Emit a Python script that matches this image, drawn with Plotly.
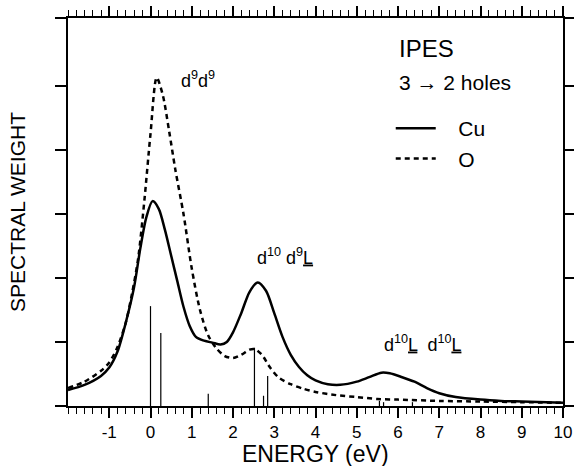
import plotly.graph_objects as go

# Cu (solid) spectral weight
cu_e = [-2.0, -1.6, -1.2, -1.0, -0.8, -0.6, -0.4, -0.25, -0.1, 0.05, 0.2, 0.35, 0.5, 0.65,
        0.8, 0.95, 1.1, 1.3, 1.5, 1.7, 1.85, 2.0, 2.2, 2.4, 2.6, 2.8, 3.0, 3.2, 3.4, 3.6,
        3.8, 4.0, 4.3, 4.6, 5.0, 5.3, 5.6, 5.8, 6.1, 6.4, 6.7, 7.0, 7.4, 8.0, 8.5, 9.0, 10.0]
cu_w = [0.25, 0.33, 0.47, 0.6, 0.85, 1.3, 1.85, 2.45, 2.95, 3.2, 3.08, 2.75, 2.35, 1.95,
        1.55, 1.25, 1.08, 1.02, 0.99, 0.96, 1.0, 1.15, 1.45, 1.78, 1.93, 1.8, 1.45, 1.08, 0.8, 0.61,
        0.48, 0.4, 0.34, 0.33, 0.38, 0.45, 0.52, 0.51, 0.45, 0.38, 0.28, 0.2, 0.14, 0.1, 0.08, 0.07, 0.05]

# O (dashed) spectral weight
o_e = [-2.0, -1.6, -1.2, -1.0, -0.8, -0.6, -0.45, -0.3, -0.15, 0.0, 0.15, 0.3, 0.45, 0.6,
       0.8, 1.0, 1.2, 1.4, 1.6, 1.8, 2.0, 2.2, 2.4, 2.52, 2.7, 2.9, 3.1, 3.4, 3.7, 4.0,
       4.5, 5.0, 5.5, 6.0, 7.0, 8.0, 9.0, 10.0]
o_w = [0.28, 0.38, 0.55, 0.68, 0.92, 1.3, 1.75, 2.3, 3.2, 4.25, 5.13, 4.85, 4.3, 3.7,
       3.0, 2.15, 1.5, 1.1, 0.9, 0.78, 0.75, 0.8, 0.88, 0.89, 0.8, 0.6, 0.45, 0.34, 0.27, 0.22,
       0.17, 0.14, 0.11, 0.1, 0.08, 0.07, 0.06, 0.05]

# discrete transition sticks
stick_e = [0.0, 0.25, 1.4, 2.52, 2.74, 2.84, 5.55, 5.65, 6.35]
stick_h = [1.56, 1.14, 0.19, 0.91, 0.16, 0.47, 0.08, 0.06, 0.06]

x_ticks = list(range(-1, 11))
Y_TOP = 6.06
y_ticks = [0, 1, 2, 3, 4, 5, Y_TOP]

FONT = "Liberation Sans"
NB = "\u00a0"

sx, sy = [], []
for e, h in zip(stick_e, stick_h):
    sx += [e, e, None]
    sy += [0, h, None]

fig = go.Figure()
fig.add_trace(go.Scatter(x=sx, y=sy, mode="lines", line=dict(color="black", width=1.2),
                         showlegend=False, hoverinfo="skip"))
fig.add_trace(go.Scatter(x=cu_e, y=cu_w, mode="lines", name=NB * 3 + "Cu", legendgroup="a",
                         line=dict(color="black", width=2.5, shape="spline", smoothing=0.8)))
fig.add_trace(go.Scatter(x=o_e, y=o_w, mode="lines", name=NB * 3 + "O", legendgroup="b",
                         line=dict(color="black", width=2.5, dash="5px,4px", shape="spline", smoothing=0.8)))

fig.update_layout(
    width=574, height=466,
    margin=dict(l=68, r=11, t=18, b=60),
    paper_bgcolor="white", plot_bgcolor="white",
    font=dict(family=FONT, color="black", size=17),
    showlegend=True,
    legend=dict(x=0.652, y=0.768, xanchor="left", yanchor="top", bgcolor="rgba(0,0,0,0)",
                font=dict(size=21), tracegroupgap=0, itemwidth=40),
    xaxis=dict(range=[-2, 10], tickvals=x_ticks, ticktext=[str(v) for v in x_ticks],
               ticks="outside", ticklen=10, tickwidth=1.5, tickcolor="black",
               minor=dict(dtick=0.2, ticks="outside", ticklen=6, tickwidth=1, tickcolor="black"),
               showline=True, linecolor="black", linewidth=1.5, mirror="ticks",
               showgrid=False, zeroline=False, tickfont=dict(size=17), automargin=False),
    yaxis=dict(range=[0, Y_TOP], tickvals=y_ticks, showticklabels=False,
               ticks="outside", ticklen=11, tickwidth=1.5, tickcolor="black",
               showline=True, linecolor="black", linewidth=1.5, mirror="ticks",
               showgrid=False, zeroline=False, automargin=False,
               title=dict(text="SPECTRAL WEIGHT", font=dict(size=21), standoff=24)),
)

fig.add_annotation(x=0.5, y=-0.162, xref="paper", yref="paper", text="ENERGY (eV)",
                   showarrow=False, xanchor="center", yanchor="bottom", font=dict(size=23))
fig.add_annotation(x=0.7, y=5.1, xref="x", yref="y", text="d<sup>9</sup>d<sup>9</sup>",
                   showarrow=False, xanchor="left", font=dict(size=18))
fig.add_annotation(x=3.25, y=2.33, xref="x", yref="y", text="d<sup>10</sup> d<sup>9</sup><u>L</u>",
                   showarrow=False, font=dict(size=18))
fig.add_annotation(x=6.6, y=0.98, xref="x", yref="y", text="d<sup>10</sup><u>L</u>  d<sup>10</sup><u>L</u>",
                   showarrow=False, font=dict(size=18))
fig.add_annotation(x=5.97, y=5.58, xref="x", yref="y", text="IPES",
                   showarrow=False, xanchor="left", font=dict(size=24))
fig.add_annotation(x=5.97, y=5.05, xref="x", yref="y", text="3 → 2 holes",
                   showarrow=False, xanchor="left", font=dict(size=21))

fig.write_html("out.html")
